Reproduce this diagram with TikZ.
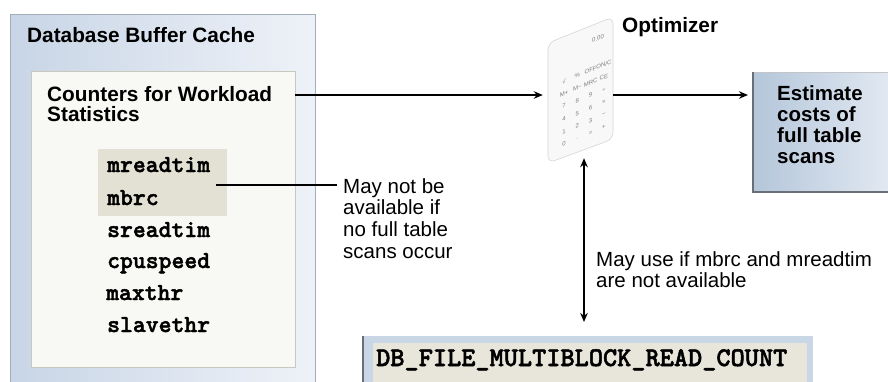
\documentclass[tikz,border=0pt]{standalone}
\usepackage{fontspec}
\setmainfont{Liberation Sans}
\newfontfamily\codefont{lmmonolt10-bold.otf}[FakeBold=1.8]
\usetikzlibrary{arrows.meta}

\definecolor{cacheL}{HTML}{C8D5E6}
\definecolor{cacheR}{HTML}{EEF2F8}
\definecolor{cacheEdge}{HTML}{A3ADBA}
\definecolor{panelFill}{HTML}{F8F8F4}
\definecolor{panelEdge}{HTML}{C9C8BF}
\definecolor{hiFill}{HTML}{E2E1D3}
\definecolor{estL}{HTML}{B4C6DA}
\definecolor{estR}{HTML}{E6ECF4}
\definecolor{estEdge}{HTML}{6A6F77}
\definecolor{paramFrame}{HTML}{C8D6E6}
\definecolor{paramFill}{HTML}{E8E6DA}
\definecolor{cardFill}{HTML}{F8F8F8}
\definecolor{cardEdge}{HTML}{D6D6D6}
\definecolor{keyGray}{HTML}{7E7E7E}

\tikzset{
  conn/.style={line width=1.6pt, -{Stealth[length=9pt,width=7.5pt]}},
  bothconn/.style={line width=1.6pt,
    {Stealth[length=9pt,width=7.5pt]}-{Stealth[length=9pt,width=7.5pt]}},
  plainline/.style={line width=1.6pt},
  boxnode/.style={inner sep=0pt, outer sep=0pt, anchor=north west},
  head/.style={inner sep=0pt, align=left,
    font=\fontsize{20.8pt}{20pt}\selectfont\bfseries},
  esthead/.style={inner sep=0pt, align=left,
    font=\fontsize{20.5pt}{21pt}\selectfont\bfseries},
  note/.style={inner sep=0pt, align=left,
    font=\fontsize{20.5pt}{21.7pt}\selectfont},
  counter/.style={inner sep=0pt, anchor=base west,
    font=\fontsize{24.5pt}{25pt}\selectfont\codefont},
  param/.style={inner sep=0pt, anchor=base west,
    font=\fontsize{27pt}{28pt}\selectfont\codefont},
  calckey/.style={inner sep=0pt, text=keyGray, yslant=0.4,
    font=\fontsize{6pt}{7pt}\selectfont},
}

\begin{document}
\begin{tikzpicture}[x=1pt, y=-1pt]
  \useasboundingbox (0,0) rectangle (888,381);
  \clip (0,0) rectangle (888,381);
  \fill[white] (0,0) rectangle (888,381);

  % Database buffer cache
  \node[boxnode, minimum width=305pt, minimum height=380pt,
        left color=cacheL, right color=cacheR, draw=cacheEdge, line width=0.8pt]
        (cache) at (10,14) {};
  \node[head, anchor=base west] (cachetitle) at (27,42) {Database Buffer Cache};

  % Counters panel
  \node[boxnode, minimum width=264pt, minimum height=296pt,
        fill=panelFill, draw=panelEdge, line width=1pt] (stats) at (31,71) {};
  \node[head, anchor=north west] (stattitle) at (47,86)
        {Counters for Workload\\Statistics};

  % highlighted counters
  \node[boxnode, minimum width=129pt, minimum height=67pt, fill=hiFill]
        (hl) at (98,149) {};

  \node[counter] (c1) at (107,172) {mreadtim};
  \node[counter] (c2) at (107,205) {mbrc};
  \node[counter] (c3) at (107,237) {sreadtim};
  \node[counter] (c4) at (107,268) {cpuspeed};
  \node[counter] (c5) at (106,300) {maxthr};
  \node[counter] (c6) at (107,332) {slavethr};

  % callout for the highlighted counters
  \node[note, anchor=north west] (notea) at (343,178)
        {May not be\\available if\\no full table\\scans occur};
  \draw[plainline] ([xshift=-11pt,yshift=-2.5pt]hl.east)
        -- ([xshift=-6pt,yshift=-2.5pt]notea.west |- hl.east);

  % Optimizer (calculator card)
  \node[inner sep=0pt, minimum width=70pt, minimum height=126pt] (opt) at (578,95) {};
  \draw[cardEdge, fill=cardFill, line width=0.6pt, rounded corners=7pt]
        (548,43) -- (613,17) -- (613,139) -- (548,163) -- cycle;
  \node[calckey] (display) at (598,38) {0.00};
  \foreach \lab [count=\i from 0] in
      {\char"221A, M+, 7, 4, 1, 0,
       \%, M−, 8, 5, 2, ., 
       OFF, MRC, 9, 6, 3, =,
       ON/C, CE, ÷, ×, −, +} {
    \pgfmathtruncatemacro{\col}{int(\i/6)}
    \pgfmathtruncatemacro{\row}{\i-6*\col}
    \node[calckey] (key\i) at ({564+13.3*\col},{81+12.6*\row-5.5*\col}) {\lab};
  }
  \node[head, anchor=base west] (optlabel) at (622,32) {Optimizer};

  % Estimate costs
  \node[boxnode, minimum width=150pt, minimum height=120pt,
        left color=estL, right color=estR, draw=estEdge!40, line width=0.8pt]
        (est) at (753,72) {};
  \draw[estEdge, line width=1.2pt] (est.north west) -- (est.south west) -- (est.south east);
  \node[esthead, anchor=north west] (esttext) at (777,85.5)
        {Estimate\\costs of\\full table\\scans};

  % DB_FILE_MULTIBLOCK_READ_COUNT parameter
  \node[boxnode, minimum width=450pt, minimum height=60pt, fill=paramFrame]
        (dbframe) at (363,336) {};
  \draw[estEdge, line width=1.2pt] (dbframe.north west) -- (dbframe.south west);
  \node[boxnode, minimum width=434pt, minimum height=50pt, fill=paramFill]
        (db) at (373,343) {};
  \node[param] (dbtext) at (376,366) {DB\_FILE\_MULTIBLOCK\_READ\_COUNT};

  \node[note, anchor=north west] (noteb) at (596,251)
        {May use if mbrc and mreadtim\\are not available};

  % connectors
  \draw[conn] (stats.east |- opt.west) -- (opt.west);
  \draw[conn, shorten >=5pt] (opt.east) -- (est.west |- opt.east);
  \draw[bothconn, shorten >=14pt] ([xshift=6pt]opt.south)
        -- ([xshift=6pt]opt.south |- dbframe.north);
\end{tikzpicture}
\end{document}
